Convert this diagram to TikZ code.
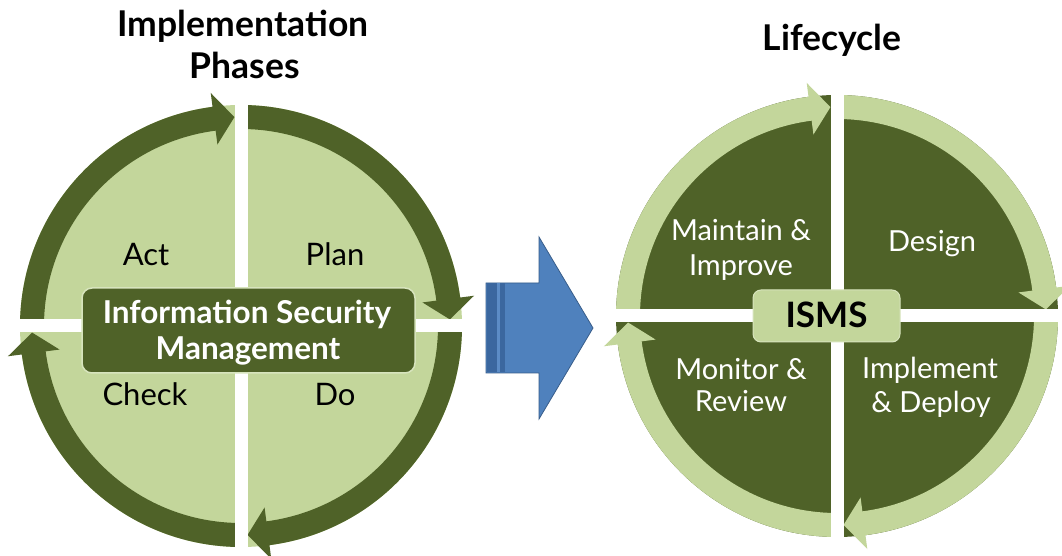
\documentclass[tikz,border=0pt]{standalone}
\usepackage{fontspec}
\setmainfont{Lato}
\definecolor{dkgreen}{HTML}{4F6228}
\definecolor{ltgreen}{HTML}{C3D69B}
\definecolor{paleg}{HTML}{D7E4BD}
\definecolor{arrowblue}{HTML}{4F81BD}
\definecolor{arrowedge}{HTML}{385D8A}
\definecolor{stripeblue}{HTML}{3B679F}
\definecolor{stripegap}{HTML}{5C8CC6}
% #1 centre, #2 start angle (flat end), #3 tip angle, #4 colour
\newcommand{\quadarrow}[4]{%
  \fill[#4,shift={#1}] (#2:221) arc[start angle=#2,end angle={#3+5.6},radius=221]
    -- ({#3+5.6}:235) -- (#3:209) -- ({#3+5.6}:183) -- ({#3+5.6}:197)
    arc[start angle={#3+5.6},end angle=#2,radius=197] -- cycle;}
\newcommand{\gapcross}[1]{%
  \fill[white,shift={#1}] (-240,-6.5) rectangle (240,6.5);
  \fill[white,shift={#1}] (-6.5,-240) rectangle (6.5,240);}
\tikzset{
  titletext/.style={font=\fontsize{35.5}{42}\selectfont\bfseries, text=black, anchor=base, inner sep=0pt},
  phasetext/.style={font=\fontsize{31}{37}\selectfont, text=black, anchor=base, inner sep=0pt},
  stagetext/.style={font=\fontsize{29}{35}\selectfont, text=white, anchor=base, inner sep=0pt},
  boxtext/.style={font=\fontsize{31.5}{37}\selectfont\bfseries, text=white, anchor=base, inner sep=0pt},
  ismstext/.style={font=\fontsize{35}{40}\selectfont\bfseries, text=black, anchor=base, inner sep=0pt},
}
\begin{document}
\begin{tikzpicture}[x=1pt,y=1pt]
\path[use as bounding box] (0,0) rectangle (1062,556);
\clip (0,0) rectangle (1062,556);
\fill[white] (0,0) rectangle (1062,556);

% ---------- left circle: PDCA ----------
\coordinate (lc) at (241,230);
\fill[ltgreen] (lc) circle[radius=221];
\quadarrow{(lc)}{180}{91.8}{dkgreen}
\quadarrow{(lc)}{90}{1.8}{dkgreen}
\quadarrow{(lc)}{0}{-88.2}{dkgreen}
\quadarrow{(lc)}{-90}{-178.2}{dkgreen}
\gapcross{(lc)}
\node[draw=paleg, line width=1.5pt, fill=dkgreen, rounded corners=10pt,
      minimum width=333pt, minimum height=85pt, inner sep=0pt] (ismbox) at (248.5,225.5) {};
\node[boxtext] (info1) at (247,232) {Information Security};
\node[boxtext] (info2) at (248,196) {Management};
\node[phasetext] (act) at (146,290) {Act};
\node[phasetext] (plan) at (335,290) {Plan};
\node[phasetext] (check) at (145,150) {Check};
\node[phasetext] (do) at (335,150) {Do};
\node[titletext] (impl) at (243,519) {Implementation};
\node[titletext] (phases) at (245,477) {Phases};

% ---------- blue arrow ----------
\fill[arrowblue, draw=arrowedge, line width=0.8pt]
  (486,183) -- (539,183) -- (539,137) -- (593,228) -- (539,319) -- (539,273) -- (486,273) -- cycle;
\fill[stripeblue] (486.5,183.5) rectangle (497,272.5);
\fill[stripegap] (497,183.5) rectangle (500,272.5);
\fill[stripeblue] (500,183.5) rectangle (505,272.5);

% ---------- right circle: lifecycle ----------
\coordinate (rc) at (837,240);
\fill[dkgreen] (rc) circle[radius=221];
\quadarrow{(rc)}{180}{91.8}{ltgreen}
\quadarrow{(rc)}{90}{1.8}{ltgreen}
\quadarrow{(rc)}{0}{-88.2}{ltgreen}
\quadarrow{(rc)}{-90}{-178.2}{ltgreen}
\gapcross{(rc)}
\node[draw=paleg, line width=1pt, fill=ltgreen, rounded corners=8pt,
      minimum width=147pt, minimum height=52pt, inner sep=0pt] (ismsbox) at (826.5,240) {};
\node[ismstext] (isms) at (826.5,228) {ISMS};
\node[stagetext] (maint1) at (741,315) {Maintain \&};
\node[stagetext] (maint2) at (741,280) {Improve};
\node[stagetext] (design) at (932,304) {Design};
\node[stagetext] (mon1) at (741,176) {Monitor \&};
\node[stagetext] (mon2) at (741,144) {Review};
\node[stagetext] (impl1) at (930,177) {Implement};
\node[stagetext] (impl2) at (931,143) {\& Deploy};
\node[titletext] (life) at (832,505) {Lifecycle};
\end{tikzpicture}
\end{document}
